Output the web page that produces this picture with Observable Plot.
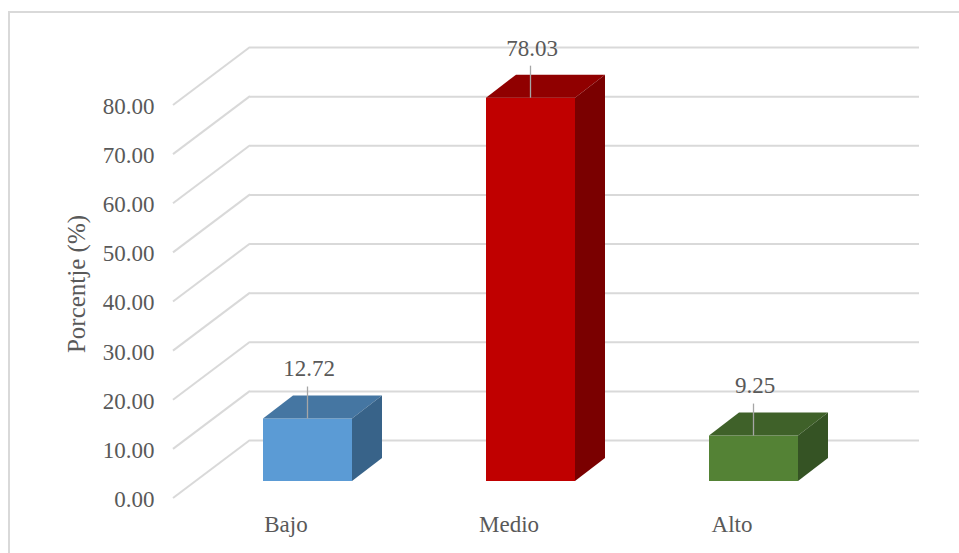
<!DOCTYPE html>
<html>
<head>
<meta charset="utf-8">
<script src="https://cdn.jsdelivr.net/npm/d3@7"></script>
<script src="https://cdn.jsdelivr.net/npm/@observablehq/plot@0.6"></script>
<style>
  html, body { margin: 0; padding: 0; background: #fff; overflow: hidden; }
  #wrap { position: relative; width: 959px; height: 553px; overflow: hidden; }
  #border { position: absolute; left: 8px; top: 11px; width: 1000px; height: 600px;
            border: 2px solid #d9d9d9; box-sizing: border-box; }
  #chart { position: absolute; left: 0; top: 0; }
  #chart svg text { font-family: "Liberation Serif", "Times New Roman", serif; }
</style>
</head>
<body>
<div id="wrap"><div id="border"></div><div id="chart"></div></div>
<script>
// ---- data ----
const categories = ["Bajo", "Medio", "Alto"];
const values = [12.72, 78.03, 9.25];
const yTicks = [0, 10, 20, 30, 40, 50, 60, 70, 80];
const yTitle = "Porcentje (%)";

// ---- styles ----
const frontColors = ["#5b9bd5", "#c00000", "#548235"];
const topColors = ["#4576a2", "#900000", "#3f6129"];
const sideColors = ["#386389", "#7a0000", "#355324"];

const data = categories.map((c, i) => ({cat: c, value: values[i]}));

// 3D geometry (pixels)
const BX = -54, BY = 41;   // bar front plane offset from back wall
const DX = 30, DY = 23;    // bar depth
const FX = -77, FY = 58;   // front edge of floor offset from back wall
const textColor = "#595959";
const gridColor = "#d9d9d9";
const serif = "Liberation Serif";

function slanted(I, scales, vals, dims) {
  const g = d3.create("svg:g").attr("stroke", gridColor).attr("stroke-width", 2).attr("fill", "none");
  for (const i of I) {
    const yy = scales.y(yTicks[i]);
    g.append("line")
      .attr("x1", dims.marginLeft).attr("y1", yy)
      .attr("x2", dims.marginLeft + FX).attr("y2", yy + FY);
  }
  return g.node();
}

function faces(I, scales) {
  const x = scales.x, y = scales.y;
  const bw = x.bandwidth();
  const g = d3.create("svg:g");
  for (const i of I) {
    const d = data[i];
    const x1 = x(d.cat) + BX, x2 = x1 + bw;
    const y0 = y(0) + BY, yv = y(d.value) + BY;
    g.append("polygon")
      .attr("points", [[x1, yv], [x2, yv], [x2 + DX, yv - DY], [x1 + DX, yv - DY]].map(p => p.join(",")).join(" "))
      .attr("fill", topColors[i]);
    g.append("polygon")
      .attr("points", [[x2, y0], [x2, yv], [x2 + DX, yv - DY], [x2 + DX, y0 - DY]].map(p => p.join(",")).join(" "))
      .attr("fill", sideColors[i]);
    const cx = x1 + bw / 2;
    g.append("line")
      .attr("x1", cx).attr("x2", cx)
      .attr("y1", yv).attr("y2", yv - 32)
      .attr("stroke", "#a6a6a6").attr("stroke-width", 1.3);
  }
  return g.node();
}

const chart = Plot.plot({
  width: 959,
  height: 553,
  marginLeft: 250,
  marginRight: 40,
  marginTop: 47,
  marginBottom: 113,
  style: {fontFamily: serif, fontSize: "23px", color: textColor, background: "transparent"},
  x: {domain: categories, paddingInner: 0.6, paddingOuter: 0.3, axis: null},
  y: {domain: [0, 80], axis: null},
  color: {type: "identity"},
  marks: [
    Plot.ruleY(yTicks, {y: d => d, stroke: gridColor, strokeWidth: 2}),
    Plot.ruleY(yTicks, {y: d => d, render: slanted}),
    Plot.text(yTicks, {y: d => d, text: d => d.toFixed(2), frameAnchor: "left", textAnchor: "end",
                       dx: -96, dy: FY + 1, fill: textColor, fontSize: 23, fontFamily: serif}),
    Plot.text([yTitle], {text: d => d, frameAnchor: "left", textAnchor: "middle", rotate: -90, dx: -174, dy: 40,
                         fill: textColor, fontSize: 25, letterSpacing: 0.8, fontFamily: serif}),
    Plot.barY(data, {x: "cat", y: "value", fill: (d, i) => frontColors[i], dx: BX, dy: BY}),
    Plot.barY(data, {x: "cat", y: "value", render: faces}),
    Plot.text(data, {x: "cat", y: "value", text: d => d.value.toFixed(2), dx: BX + 1, dy: BY - 50,
                     fill: textColor, fontSize: 23, fontFamily: serif}),
    Plot.text(categories, {x: d => d, text: d => d, frameAnchor: "bottom", dx: FX + 1, dy: 91,
                           fill: textColor, fontSize: 23, fontFamily: serif})
  ]
});
document.getElementById("chart").appendChild(chart);
</script>
</body>
</html>
